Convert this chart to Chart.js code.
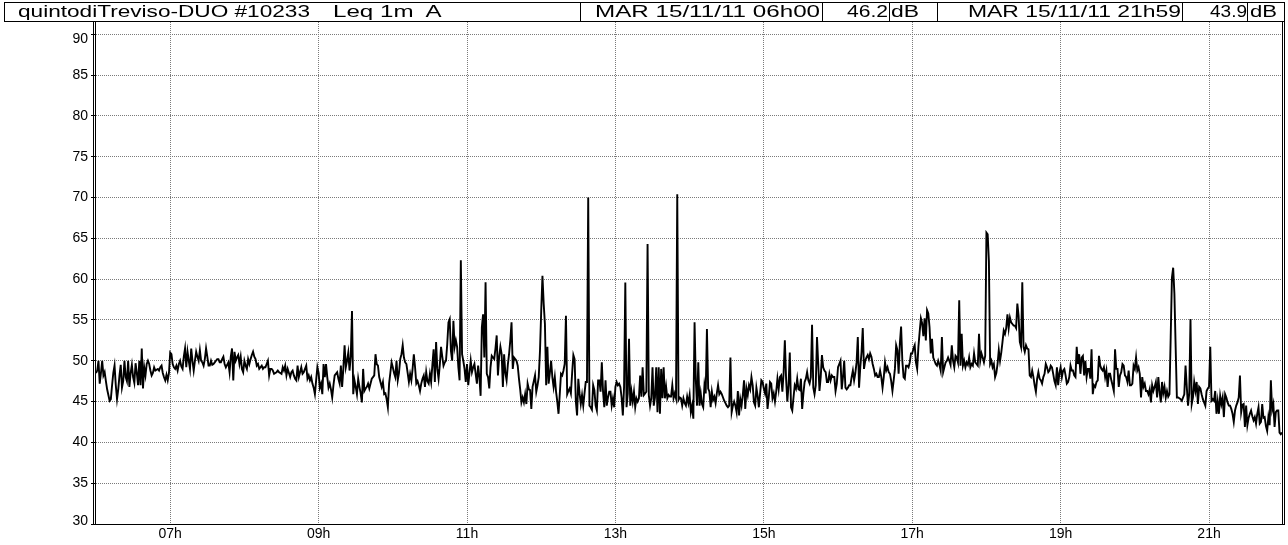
<!DOCTYPE html>
<html>
<head>
<meta charset="utf-8">
<script src="https://cdn.jsdelivr.net/npm/chart.js@4.4.1/dist/chart.umd.min.js"></script>
<style>
  html, body { margin: 0; padding: 0; background: #fff; }
  #wrap { position: relative; width: 1288px; height: 545px; overflow: hidden; background: #fff; }
  #c { position: absolute; left: 0; top: 0; }
  #head { position: absolute; left: 4px; top: 2px; width: 1281px; height: 20px; border: 1px solid #000; box-sizing: border-box;
          font-family: "Liberation Sans", Arial, sans-serif; font-size: 16px; color: #000; }
  .sep { position: absolute; top: 0; width: 1px; height: 18px; background: #000; }
  .t { position: absolute; top: 0px; white-space: pre; transform-origin: 0 0; line-height: 18px; }
</style>
</head>
<body>
<div id="wrap">
  <canvas id="c" width="1288" height="545"></canvas>
  <div id="head"></div>
</div>
<script>
// Leq 1 min, A-weighted, one value per minute from 06:00 to 21:59 (one array per hour)
const h06 = [48.5,48.8,50.0,47.2,48.5,50.0,48.2,48.6,47.5,46.5, 45.8,45.1,45.3,47.0,48.5,49.4,47.0,45.3,46.5,48.2,
             49.5,46.7,47.5,50.0,48.0,47.5,50.0,46.8,48.5,49.5, 48.0,47.3,49.7,48.5,47.0,50.0,47.0,51.5,46.6,49.2,
             48.2,49.6,50.0,49.6,48.8,48.2,48.5,49.2,48.8,48.9, 49.0,48.8,49.2,49.4,48.5,48.0,47.6,48.3,47.6,48.5];
const h07 = [51.0,50.8,49.6,49.2,49.0,49.4,48.8,49.6,50.0,49.3, 49.0,50.5,51.5,49.2,51.1,50.0,49.0,51.5,50.0,48.8,
             50.0,51.1,50.5,50.0,51.3,50.0,49.8,49.4,50.2,51.5, 50.5,49.4,49.4,50.0,49.5,49.6,49.8,50.0,50.2,50.2,
             49.8,49.8,50.2,50.5,49.6,49.2,49.5,49.8,48.6,50.5, 51.5,47.6,51.1,50.0,50.4,50.7,49.6,50.5,49.0,48.6];
const h08 = [50.0,49.4,49.0,50.2,49.6,50.2,50.7,51.1,50.5,50.2, 49.4,49.6,49.0,49.2,49.4,49.0,49.2,49.2,49.6,50.0,
             48.2,49.0,49.0,48.8,48.4,48.5,48.6,48.8,48.6,48.5, 48.4,49.2,48.8,49.4,48.2,49.0,48.5,48.0,48.6,48.8,
             48.2,47.8,47.6,49.4,48.0,48.6,49.2,48.4,48.6,49.0, 49.4,47.8,48.2,47.6,48.0,47.2,46.7,45.9,47.6,49.2];
const h09 = [48.5,46.7,47.2,45.9,49.6,48.0,49.6,48.0,46.7,47.2, 46.5,45.5,47.0,48.2,48.4,48.6,47.8,47.2,49.4,46.8,
             49.0,51.9,49.2,50.0,51.0,48.8,50.5,56.1,45.9,47.6, 46.8,45.9,47.8,46.8,46.0,44.9,49.0,46.3,46.6,46.8,
             47.2,46.6,47.2,47.8,48.0,48.2,50.8,49.6,49.4,48.0, 47.4,46.8,47.4,45.9,46.0,45.3,44.3,47.2,48.5,49.8];
const h10 = [49.2,48.5,48.0,50.0,47.6,48.5,50.2,50.8,51.9,50.4, 49.8,49.6,48.5,47.4,48.4,47.6,49.0,50.8,49.2,47.2,
             47.5,47.0,46.3,47.2,47.8,48.2,46.8,48.6,47.5,47.2, 48.4,47.4,49.5,51.4,47.4,52.3,49.0,47.8,49.5,51.7,
             50.5,49.4,49.8,50.0,52.0,54.7,55.1,51.2,50.0,54.9, 51.7,52.5,51.7,49.2,47.6,62.3,50.8,50.0,49.0,47.4];
const h11 = [49.6,47.0,48.5,50.0,48.6,49.2,49.6,48.4,47.2,49.4, 48.0,45.7,54.1,55.7,50.4,59.6,48.4,48.0,46.6,49.2,
             50.6,50.4,50.2,51.5,53.1,48.2,50.5,51.7,50.8,46.8, 50.8,48.5,47.6,49.5,50.8,52.5,54.7,49.0,50.4,50.2,
             50.0,49.4,47.8,46.5,44.9,45.5,44.9,45.9,44.7,47.2, 46.5,46.4,44.1,46.8,47.5,48.2,46.2,47.0,48.0,51.2];
const h12 = [56.1,60.4,57.0,54.5,47.0,51.7,47.2,48.5,50.0,48.0, 46.8,48.0,46.2,45.0,43.5,45.9,48.4,48.2,48.8,49.6,
             55.5,45.9,46.3,46.6,46.0,48.5,50.7,50.2,45.0,43.3, 47.8,46.0,44.7,45.8,44.5,46.0,47.4,47.4,70.0,44.5,
             44.3,44.0,47.0,46.4,44.5,43.9,47.6,47.6,46.2,49.8, 46.2,44.3,47.6,44.5,45.5,46.2,46.2,44.5,45.4,44.3];
const h13 = [46.8,47.4,47.0,47.2,46.8,45.5,43.3,46.8,59.6,44.3, 46.0,52.7,44.5,46.2,45.0,46.2,44.3,45.4,45.0,45.4,
             48.2,45.6,49.2,45.8,46.0,46.2,64.3,45.8,44.5,45.4, 49.2,44.5,45.5,49.2,43.7,49.2,43.5,49.0,45.4,49.2,
             45.4,46.8,45.4,45.8,45.6,45.6,47.0,45.4,46.0,45.4, 70.4,45.2,45.5,45.4,44.5,45.4,44.8,44.5,45.6,44.8];
const h14 = [45.8,43.7,44.5,42.9,54.7,47.6,44.5,49.8,44.5,46.0, 44.7,44.3,47.0,46.0,53.9,46.6,46.2,44.3,46.2,45.2,
             45.6,44.8,46.0,47.0,45.9,46.2,45.9,45.5,45.1,44.8, 44.5,44.3,44.5,50.4,43.7,44.5,45.0,44.5,43.7,46.3,
             43.3,45.3,44.5,45.8,47.6,44.1,46.6,45.8,47.0,46.5, 48.0,47.0,44.9,44.5,46.7,45.7,44.3,46.0,47.6,47.4];
const h15 = [46.6,46.0,47.2,44.1,45.5,47.4,47.2,45.4,46.0,45.0, 46.2,47.8,46.5,48.0,48.2,46.2,48.5,52.5,47.8,45.0,
             47.0,51.0,44.3,43.9,45.5,47.0,46.6,47.8,46.5,46.4, 47.8,44.1,46.0,47.4,47.8,48.6,47.6,47.2,48.0,54.4,
             46.7,45.9,47.0,52.9,49.6,46.3,48.0,50.7,49.2,48.8, 48.6,47.4,47.4,48.4,47.6,48.2,48.0,48.0,46.3,47.2];
const h16 = [49.2,49.6,50.0,46.5,48.0,50.0,46.7,46.5,46.7,47.0, 47.0,48.0,48.8,47.6,48.5,49.8,52.9,46.7,49.2,51.0,
             54.0,49.0,50.0,50.4,50.7,50.2,50.9,50.5,49.6,49.0, 48.2,48.4,48.0,48.0,48.8,48.0,46.7,48.0,49.8,48.8,
             49.2,48.6,48.4,47.5,46.3,47.6,49.0,51.9,51.3,48.4, 52.1,54.2,50.0,48.0,47.8,49.4,49.4,49.2,49.8,50.9];
const h17 = [50.9,51.5,51.9,49.8,49.0,51.7,53.5,55.2,54.6,53.0, 55.2,52.5,56.2,55.8,54.1,50.9,52.7,50.4,50.0,49.6,
             49.4,50.0,49.5,48.8,52.9,48.6,49.2,49.8,50.0,50.4, 50.0,49.5,51.9,50.0,49.2,50.6,50.4,49.8,57.4,49.4,
             53.3,49.4,50.0,49.2,49.8,49.5,50.4,49.2,49.6,49.4, 50.9,49.8,49.6,49.4,53.3,50.0,50.9,50.4,49.8,50.6];
const h18 = [65.7,65.5,62.2,49.6,50.0,49.2,49.6,48.0,48.5,49.6, 51.3,50.0,51.0,52.3,53.7,53.3,54.0,55.7,54.0,55.3,
             54.7,54.5,54.3,54.3,54.0,57.0,55.5,52.3,51.7,59.6, 51.7,51.1,51.9,51.5,51.4,48.2,48.0,48.8,48.0,47.0,
             46.2,47.8,48.6,47.8,47.6,47.2,48.0,48.4,49.6,49.2, 48.6,48.8,49.4,49.2,48.4,47.5,47.0,49.2,47.0,48.5];
const h19 = [49.2,48.0,48.8,49.0,48.2,47.2,47.4,48.0,49.4,48.8, 48.8,48.2,48.0,51.7,49.6,50.8,48.4,50.4,50.6,48.2,
             50.0,48.0,49.0,49.0,47.8,51.4,45.9,47.0,46.8,47.4, 47.6,50.6,49.4,49.0,48.8,49.2,48.0,48.8,46.8,48.4,
             48.4,47.6,47.0,46.3,51.4,49.0,49.0,46.8,48.2,48.6, 49.6,49.4,48.2,48.0,47.4,48.8,47.0,47.0,47.2,49.4];
const h20 = [49.0,50.4,48.8,49.2,48.4,45.5,48.0,46.8,47.2,46.3, 46.3,45.9,46.5,44.9,47.0,46.3,46.8,47.4,45.5,48.0,
             46.2,44.9,47.4,46.0,46.8,45.5,46.3,45.6,45.9,52.9, 60.2,61.4,58.2,51.7,45.5,45.5,45.4,45.3,45.1,45.5,
             45.9,49.4,46.8,44.5,46.0,55.1,44.7,45.5,47.4,46.3, 47.4,44.7,46.8,46.6,45.9,45.3,44.9,44.5,46.3,46.6];
const h21 = [46.8,51.7,45.1,45.3,45.1,46.3,43.5,45.0,43.5,45.7, 44.7,45.5,43.1,45.9,45.5,44.9,44.5,44.5,44.1,43.5,
             42.5,43.9,44.5,44.9,45.5,48.2,43.7,44.6,44.7,41.9, 44.5,42.1,43.0,43.5,43.9,43.2,42.7,43.1,42.3,43.5,
             44.3,42.3,42.5,44.7,43.0,43.1,42.0,41.4,43.1,42.1, 47.6,44.0,44.7,41.9,43.7,43.9,43.9,41.2,41.0,41.2];

const startHour = 6;
const hourTicks = [7, 9, 11, 13, 15, 17, 19, 21];
const hourLabels = ['07h', '09h', '11h', '13h', '15h', '17h', '19h', '21h'];
const dbTicks = [30, 35, 40, 45, 50, 55, 60, 65, 70, 75, 80, 85, 90];
const dbTop = 91.5;   // plot frame runs a little above the 90 dB line

// header strip: [text, left, width]
const headerTexts = [
  ['quintodiTreviso-DUO #10233', 13, 292],
  ['Leq 1m  A', 328, 110],
  ['MAR 15/11/11 06h00', 590, 225],
  ['46.2', 842, 41],
  ['dB', 886, 28],
  ['MAR 15/11/11 21h59', 963, 213],
  ['43.9', 1205, 37],
  ['dB', 1245, 27]
];
const headerSeps = [575, 817, 884, 932, 1177, 1242];

const series = [].concat(h06, h07, h08, h09, h10, h11, h12, h13, h14, h15, h16, h17, h18, h19, h20, h21);
const points = series.map((v, i) => ({ x: i, y: v }));

// header
const head = document.getElementById('head');
const mctx = document.createElement('canvas').getContext('2d');
mctx.font = '16px "Liberation Sans", Arial, sans-serif';
headerSeps.forEach(x => {
  const d = document.createElement('div');
  d.className = 'sep';
  d.style.left = x + 'px';
  head.appendChild(d);
});
headerTexts.forEach(([txt, left, w]) => {
  const s = document.createElement('span');
  s.className = 't';
  s.textContent = txt;
  s.style.left = left + 'px';
  const natural = mctx.measureText(txt).width;
  s.style.transform = 'scaleX(' + (w / natural).toFixed(3) + ')';
  head.appendChild(s);
});

const FONT = '14px "Liberation Sans", Arial, sans-serif';

const frame = {
  id: 'frame',
  afterDraw(chart) {
    const { ctx, chartArea: a, scales } = chart;
    ctx.save();
    ctx.strokeStyle = '#000';
    ctx.lineWidth = 1;
    ctx.beginPath();
    // double vertical borders
    [a.left - 2.5, a.left - 0.5, a.right + 0.5, a.right + 2.5].forEach(x => {
      ctx.moveTo(x, a.top); ctx.lineTo(x, a.bottom + 1);
    });
    ctx.moveTo(a.left - 3, a.bottom + 0.5); ctx.lineTo(a.right + 3, a.bottom + 0.5);
    ctx.stroke();

    ctx.fillStyle = '#000';
    ctx.font = FONT;
    ctx.textAlign = 'right';
    ctx.textBaseline = 'middle';
    const yTop = scales.y.getPixelForValue(90);
    dbTicks.forEach(v => {
      let y = scales.y.getPixelForValue(v);
      y = Math.min(Math.max(y, yTop + 5), a.bottom - 3);
      ctx.fillText(String(v), a.left - 8, y);
    });
    ctx.textAlign = 'center';
    hourTicks.forEach((h, i) => {
      const x = scales.x.getPixelForValue((h - startHour) * 60);
      ctx.fillText(hourLabels[i], x, a.bottom + 10);
    });
    ctx.restore();
  }
};

new Chart(document.getElementById('c'), {
  type: 'line',
  data: {
    datasets: [{
      data: points,
      borderColor: '#000',
      borderWidth: 1.9,
      pointRadius: 0,
      tension: 0,
      fill: false
    }]
  },
  options: {
    responsive: false,
    animation: false,
    events: [],
    layout: { padding: { left: 0, top: 22, right: 6, bottom: 0 } },
    plugins: { legend: { display: false }, tooltip: { enabled: false } },
    scales: {
      x: {
        type: 'linear',
        min: 0,
        max: 959,
        afterFit(s) { s.height = 21; },
        afterBuildTicks(s) { s.ticks = hourTicks.map(h => ({ value: (h - startHour) * 60 })); },
        ticks: { display: false },
        grid: { color: '#7a7a7a', lineWidth: 1, drawTicks: false },
        border: { display: false, dash: [1, 1] }
      },
      y: {
        min: 30,
        max: dbTop,
        afterFit(s) { s.width = 96; },
        afterBuildTicks(s) { s.ticks = dbTicks.map(v => ({ value: v })); },
        ticks: { display: false },
        grid: { color: '#7a7a7a', lineWidth: 1, drawTicks: true, tickLength: 5, tickColor: '#000', tickBorderDash: [] },
        border: { display: false, dash: [1, 1] }
      }
    }
  },
  plugins: [frame]
});
</script>
</body>
</html>
